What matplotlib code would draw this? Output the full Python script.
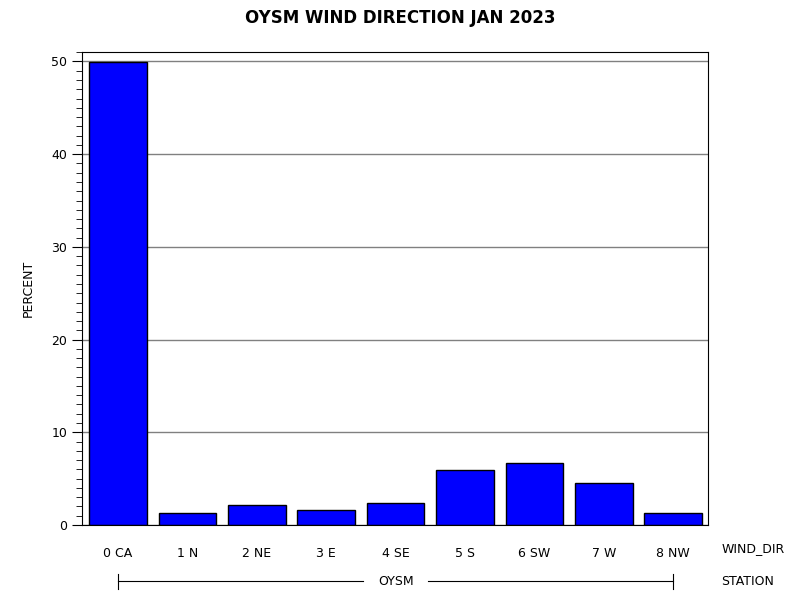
import matplotlib
matplotlib.use("Agg")
import matplotlib.pyplot as plt
from matplotlib.ticker import MultipleLocator

categories = ["0 CA", "1 N", "2 NE", "3 E", "4 SE", "5 S", "6 SW", "7 W", "8 NW"]
percent = [49.9, 1.3, 2.15, 1.6, 2.4, 5.9, 6.7, 4.5, 1.3]
station = "OYSM"

fig = plt.figure(figsize=(8, 6), dpi=100)
ax = fig.add_axes([0.1025, 0.125, 0.7825, 0.788])
x = list(range(len(categories)))
ax.set_axisbelow(True)
ax.yaxis.grid(True, color="#808080", linewidth=1)
ax.bar(x, percent, width=0.83, color="#0000ff", edgecolor="black", linewidth=1)
ax.set_xlim(-0.52, 8.5)
ax.set_ylim(0, 51)
ax.set_yticks([0, 10, 20, 30, 40, 50])
ax.yaxis.set_minor_locator(MultipleLocator(1))
ax.tick_params(axis="y", which="major", length=7, labelsize=9)
ax.tick_params(axis="y", which="minor", length=4)
ax.set_xticks(x)
ax.set_xticklabels(categories, fontsize=9)
ax.tick_params(axis="x", length=0, pad=16)
ax.set_ylabel("PERCENT", fontsize=9, labelpad=12)
fig.suptitle("OYSM WIND DIRECTION JAN 2023", fontsize=12, fontweight="bold", y=0.985)
fig.text(0.902, 0.085, "WIND_DIR", fontsize=9, va="center")
fig.text(0.902, 0.031, "STATION", fontsize=9, va="center")
# station bracket
y0 = 0.031
fig.add_artist(plt.Line2D([118/800, 363/800], [y0, y0], color="black", lw=0.8))
fig.add_artist(plt.Line2D([428/800, 673/800], [y0, y0], color="black", lw=0.8))
fig.add_artist(plt.Line2D([118/800, 118/800], [y0-0.012, y0+0.012], color="black", lw=0.8))
fig.add_artist(plt.Line2D([673/800, 673/800], [y0-0.012, y0+0.012], color="black", lw=0.8))
fig.text(396/800, y0, station, fontsize=9, ha="center", va="center")
fig.savefig("out.png")
